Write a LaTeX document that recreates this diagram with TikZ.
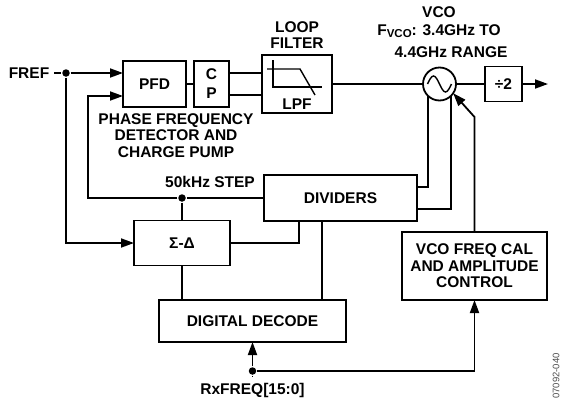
\documentclass[tikz,border=0pt]{standalone}
\usepackage{fontspec}
\setmainfont{Liberation Sans}
\usetikzlibrary{arrows.meta}

\begin{document}
\begin{tikzpicture}[x=1pt,y=-1pt,>={Triangle[length=13pt,width=9pt]},
	line width=1.8pt,
	every node/.style={font=\fontsize{15.5}{16.5}\selectfont\bfseries},
	blk/.style={draw, inner sep=0pt, outer sep=0pt, align=center},
	lbl/.style={align=center, inner sep=0pt},
	jdot/.style={circle, fill, inner sep=0pt, minimum size=7.5pt},
	thin sym/.style={line width=1.4pt}]
	\useasboundingbox (0,0) rectangle (562,402);

	% loop, left to right
	\node (fref) [lbl] at (29,73) {FREF};
	\node (fdot) [jdot] at (66,73) {};
	\node (pfd) [blk, minimum width=63pt, minimum height=46pt] at (154.5,84) {PFD};
	\node (cp) [blk, minimum width=35pt, minimum height=46pt,
		font=\fontsize{15.5}{19}\selectfont\bfseries] at (211.5,84) {C\\P};
	\node (lpf) [blk, minimum width=70pt, minimum height=58pt] at (297,84) {};
	\node (lpftxt) [lbl] at (297,104) {LPF};
	\node (vco) [draw, circle, minimum size=33pt, inner sep=0pt, outer sep=0pt] at (439.5,84) {};
	\node (div2) [blk, minimum width=37pt, minimum height=35pt] at (503.5,84) {÷2};
	\coordinate (out) at (548,84);

	% feedback blocks
	\node (dividers) [blk, minimum width=153pt, minimum height=46pt] at (340.5,198) {DIVIDERS};
	\node (sd) [blk, minimum width=96pt, minimum height=45pt] at (182,243) {Σ-Δ};
	\node (dd) [blk, minimum width=187pt, minimum height=42pt] at (252.5,321) {DIGITAL DECODE};
	\node (cal) [blk, minimum width=145pt, minimum height=68pt] at (474.5,266)
		{VCO FREQ CAL\\AND AMPLITUDE\\CONTROL};
	\node (stepdot) [jdot] at (182,198) {};
	\node (rxdot) [jdot] at (252.5,371) {};
	\coordinate (fbturn) at (88,96);

	% labels
	\node (pdlbl) [lbl] at (176,135.5) {PHASE FREQUENCY\\DETECTOR AND\\CHARGE PUMP};
	\node (looplbl) [lbl, font=\fontsize{15.5}{16}\selectfont\bfseries] at (297,35) {LOOP\\FILTER};
	\node (vcolbl) [lbl] at (439,12) {VCO};
	\node (fvco) [lbl] at (439,31) {F\raisebox{-2.5pt}{\fontsize{11.5}{11.5}\selectfont VCO}: 3.4GHz TO};
	\node (range) [lbl] at (451,52) {4.4GHz RANGE};
	\node (steplbl) [lbl] at (210,182) {50kHz STEP};
	\node (rx) [lbl] at (252.5,390) {RxFREQ[15:0]};
	\node (tag) [lbl, rotate=90, text=black!70,
		font=\fontsize{9.5}{10}\selectfont] at (556,376) {07092-040};

	% symbols
	\draw[thin sym] (273,60) -- (273,87) -- (322,87);
	\draw[thin sym] (267,69) -- (300,69) -- (315,95);
	\draw[thin sym] ([xshift=-12pt]vco.center) sin ++(6pt,8pt) cos ++(6pt,-8pt)
		sin ++(6pt,-8pt) cos ++(6pt,8pt);

	% connectors
	\draw[->] ([xshift=4pt]fref.east) -- (fdot) -- (fdot -| pfd.west);
	\draw[->] (fdot) |- (sd.west);
	\draw[->] (dividers.west) -- (stepdot) -| (fbturn) -- (fbturn -| pfd.west);
	\draw (stepdot) -- (sd.north);
	\draw (pfd) -- (cp);
	\draw ([yshift=11pt]cp.east) -- ([yshift=11pt]cp.east -| lpf.west);
	\draw ([yshift=-11pt]cp.east) -- ([yshift=-11pt]cp.east -| lpf.west);
	\draw (lpf) -- (vco);
	\draw (vco) -- (div2);
	\draw[->] (div2) -- (out);
	\draw (vco.south west) |- ([yshift=11pt]dividers.east);
	\draw (vco.south east) |- ([yshift=-11pt]dividers.east);
	\draw[->] (cal.north) -- ++(0pt,115pt) -- (vco.-34);
	\draw (sd.east) -| ([xshift=-41.5pt]dividers.south);
	\draw ([xshift=-18.5pt]dividers.south) -- ([xshift=-18.5pt]dividers.south |- dd.north);
	\draw (sd.south) -- (sd.south |- dd.north);
	\draw ([yshift=6pt]rx.north) -- (rxdot);
	\draw[->] (rxdot) -- (rxdot |- dd.south);
	\draw[->] (rxdot) -| (cal.south);
\end{tikzpicture}
\end{document}
